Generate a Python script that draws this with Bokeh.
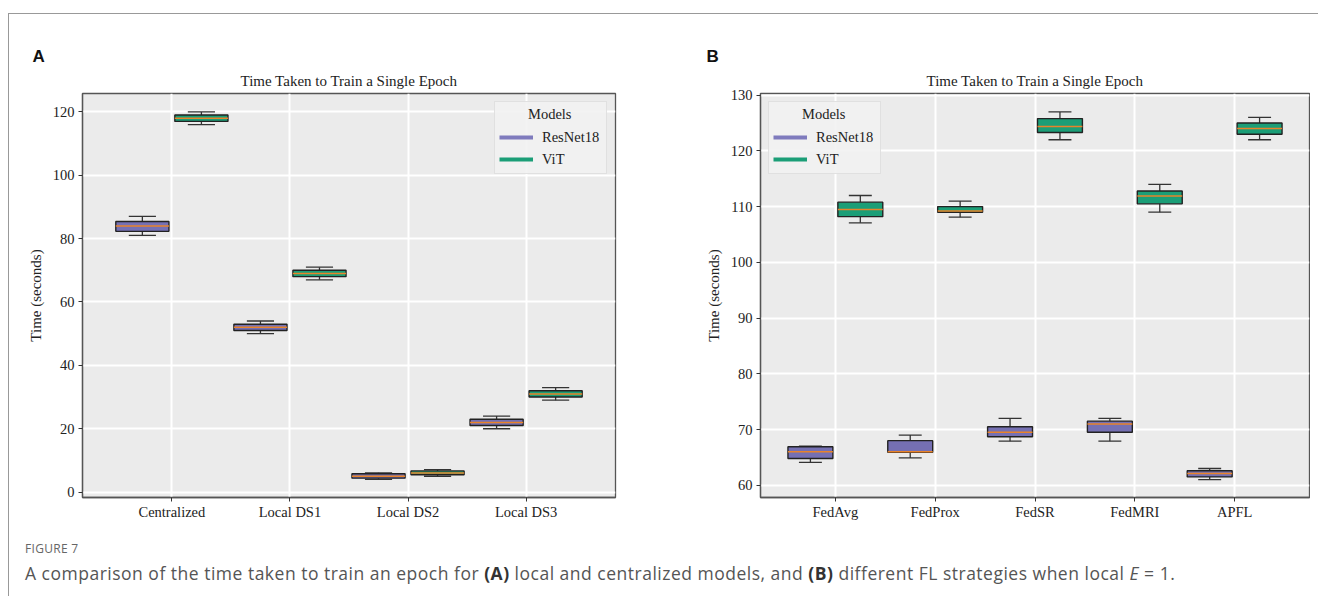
from bokeh.plotting import figure
from bokeh.models import (FactorRange, Range1d, Title, Legend, LegendItem,
                          FixedTicker, ColumnDataSource, Div)
from bokeh.transform import dodge
from bokeh.layouts import row, column
from bokeh.embed import file_html
from bokeh.resources import INLINE

# ---------------- data ----------------
models = ["ResNet18", "ViT"]
model_colors = ["#7570b3", "#1b9e77"]
legend_title = "Models"

a_categories = ["Centralized", "Local DS1", "Local DS2", "Local DS3"]
a_resnet_min = [81.0, 50.0, 4.0, 20.0]
a_resnet_q1 = [82.3, 51.0, 4.4, 21.0]
a_resnet_med = [84.0, 52.0, 5.0, 22.0]
a_resnet_q3 = [85.4, 53.0, 5.8, 23.0]
a_resnet_max = [87.0, 54.0, 6.1, 24.0]
a_vit_min = [116.0, 67.0, 5.0, 29.0]
a_vit_q1 = [117.0, 68.0, 5.5, 30.0]
a_vit_med = [118.0, 69.0, 6.0, 31.0]
a_vit_q3 = [119.0, 70.0, 6.7, 32.0]
a_vit_max = [120.0, 71.0, 7.1, 33.0]
a_yticks = [0, 20, 40, 60, 80, 100, 120]

b_categories = ["FedAvg", "FedProx", "FedSR", "FedMRI", "APFL"]
b_resnet_min = [64.1, 64.9, 67.9, 67.9, 61.0]
b_resnet_q1 = [64.8, 65.9, 68.7, 69.5, 61.5]
b_resnet_med = [66.0, 66.0, 69.5, 71.0, 62.1]
b_resnet_q3 = [66.9, 68.0, 70.5, 71.5, 62.6]
b_resnet_max = [67.0, 69.0, 72.0, 72.0, 63.0]
b_vit_min = [107.1, 108.1, 122.0, 109.0, 122.0]
b_vit_q1 = [108.2, 109.0, 123.3, 110.5, 123.0]
b_vit_med = [109.5, 109.2, 124.4, 111.9, 124.0]
b_vit_q3 = [110.8, 110.0, 125.8, 112.8, 125.0]
b_vit_max = [112.0, 111.0, 127.0, 114.0, 126.0]
b_yticks = [60, 70, 80, 90, 100, 110, 120, 130]

title_text = "Time Taken to Train a Single Epoch"
y_label = "Time (seconds)"

SERIF = "Liberation Serif"
BOX_W = 0.45
OFF = 0.25
CAP = 0.115
NAN = float("nan")


def make_panel(cats, resnet, vit, y0, y1, yticks, letter, letter_offset,
               width, mbl, mbr, range_pad, legend_loc):
    frame_h = 404
    mbt, mbb = 79, 31
    p = figure(x_range=FactorRange(factors=cats, range_padding=range_pad),
               y_range=Range1d(y0, y1), width=width, height=mbt + frame_h + mbb,
               min_border_left=mbl, min_border_right=mbr,
               min_border_top=mbt, min_border_bottom=mbb,
               toolbar_location=None, output_backend="svg", title=None)
    p.background_fill_color = "#ebebeb"
    p.border_fill_color = "white"
    p.outline_line_color = "#555555"
    p.outline_line_width = 1.3

    for stats, color, off in ((resnet, model_colors[0], -OFF), (vit, model_colors[1], OFF)):
        mn, q1, md, q3, mx = stats
        src = ColumnDataSource(dict(cat=cats, mn=mn, q1=q1, md=md, q3=q3, mx=mx))
        xc = dodge("cat", off, range=p.x_range)
        p.segment(x0=xc, y0="q3", x1=xc, y1="mx", source=src, line_color="#333333", line_width=1.3)
        p.segment(x0=xc, y0="q1", x1=xc, y1="mn", source=src, line_color="#333333", line_width=1.3)
        p.segment(x0=dodge("cat", off - CAP, range=p.x_range), y0="mx",
                  x1=dodge("cat", off + CAP, range=p.x_range), y1="mx",
                  source=src, line_color="#333333", line_width=1.3)
        p.segment(x0=dodge("cat", off - CAP, range=p.x_range), y0="mn",
                  x1=dodge("cat", off + CAP, range=p.x_range), y1="mn",
                  source=src, line_color="#333333", line_width=1.3)
        p.vbar(x=xc, width=BOX_W, top="q3", bottom="q1", source=src,
               fill_color=color, line_color="#222222", line_width=1.4)
        p.segment(x0=dodge("cat", off - BOX_W / 2, range=p.x_range), y0="md",
                  x1=dodge("cat", off + BOX_W / 2, range=p.x_range), y1="md",
                  source=src, line_color="#e8832a", line_width=1.5)

    p.xgrid.grid_line_color = "white"
    p.xgrid.grid_line_width = 2
    p.ygrid.grid_line_color = "white"
    p.ygrid.grid_line_width = 2
    p.yaxis.ticker = FixedTicker(ticks=yticks)
    for ax in (p.xaxis[0], p.yaxis[0]):
        ax.axis_line_color = "#555555"
        ax.axis_line_width = 1.3
        ax.major_tick_line_color = "#333333"
        ax.major_tick_out = 4
        ax.major_tick_in = 0
        ax.minor_tick_line_color = None
        ax.major_label_text_font = SERIF
        ax.major_label_text_font_size = "14.5px"
        ax.major_label_text_color = "#222222"
    p.xaxis.major_label_standoff = 2
    p.yaxis.major_label_standoff = 4
    p.yaxis.axis_label = y_label
    p.yaxis.axis_label_text_font = SERIF
    p.yaxis.axis_label_text_font_style = "normal"
    p.yaxis.axis_label_text_font_size = "15px"
    p.yaxis.axis_label_text_color = "#222222"
    p.yaxis.axis_label_standoff = 6

    p.add_layout(Title(text=title_text, align="center", text_font=SERIF,
                       text_font_size="15px", text_font_style="normal",
                       text_color="#222222", standoff=9), "above")
    p.add_layout(Title(text=letter, align="left", offset=letter_offset,
                       text_font="Liberation Sans", text_font_size="17px",
                       text_font_style="bold", text_color="#111111", standoff=1), "above")

    # legend keys: line renderers with no visible point
    r1 = p.line(x=[cats[0]], y=[NAN], line_color="#7f7bbd", line_width=4)
    r2 = p.line(x=[cats[0]], y=[NAN], line_color=model_colors[1], line_width=4)
    leg = Legend(items=[LegendItem(label=models[0], renderers=[r1]),
                        LegendItem(label=models[1], renderers=[r2])],
                 location=legend_loc, title="\u00a0" * 8 + legend_title,
                 title_text_font=SERIF, title_text_font_style="normal",
                 title_text_font_size="14.5px", title_text_color="#222222",
                 title_standoff=4, padding=4, margin=8, spacing=2,
                 glyph_width=34, glyph_height=20, label_height=20, label_width=60,
                 label_standoff=9, label_text_font=SERIF, label_text_font_size="14.5px",
                 label_text_color="#222222", background_fill_color="#f2f2f2",
                 background_fill_alpha=0.9, border_line_color="#d0d0d0",
                 border_line_width=1)
    p.add_layout(leg)
    return p


pA = make_panel(a_categories,
                (a_resnet_min, a_resnet_q1, a_resnet_med, a_resnet_q3, a_resnet_max),
                (a_vit_min, a_vit_q1, a_vit_med, a_vit_q3, a_vit_max),
                -1.7, 125.8, a_yticks, "A", -50,
                width=651, mbl=73, mbr=45, range_pad=0.1285,
                legend_loc="top_right")
pB = make_panel(b_categories,
                (b_resnet_min, b_resnet_q1, b_resnet_med, b_resnet_q3, b_resnet_max),
                (b_vit_min, b_vit_q1, b_vit_med, b_vit_q3, b_vit_max),
                57.8, 130.3, b_yticks, "B", -54,
                width=650, mbl=100, mbr=1, range_pad=0.1,
                legend_loc="top_left")

caption_html = (
    '<div style="position:relative;width:1301px;height:68px;font-family:\'Open Sans\',sans-serif;">'
    '<div style="position:absolute;left:16px;top:12px;font-size:12px;color:#666666;'
    'letter-spacing:0.3px;white-space:nowrap;">FIGURE 7</div>'
    '<div style="position:absolute;left:16px;top:33px;font-size:17.5px;color:#555555;'
    'letter-spacing:0.5px;white-space:nowrap;">A comparison of the time taken to train an epoch for '
    '<b style="color:#333">(A)</b> local and centralized models, and '
    '<b style="color:#333">(B)</b> different FL strategies when local <i>E</i> = 1.</div>'
    '</div>'
)
cap = Div(text=caption_html, width=1301, height=68, margin=0)

# card border lines (top and left)
top_line = Div(text="", width=1310, height=1, margin=0,
               styles={"background-color": "#999999"})
left_line = Div(text="", width=1, height=582, margin=0,
                styles={"background-color": "#999999"})

layout = column(top_line,
                row(left_line, column(row(pA, pB), cap)),
                styles={"margin-top": "13px", "margin-left": "8px"})

open("out.html", "w").write(file_html(layout, INLINE))
